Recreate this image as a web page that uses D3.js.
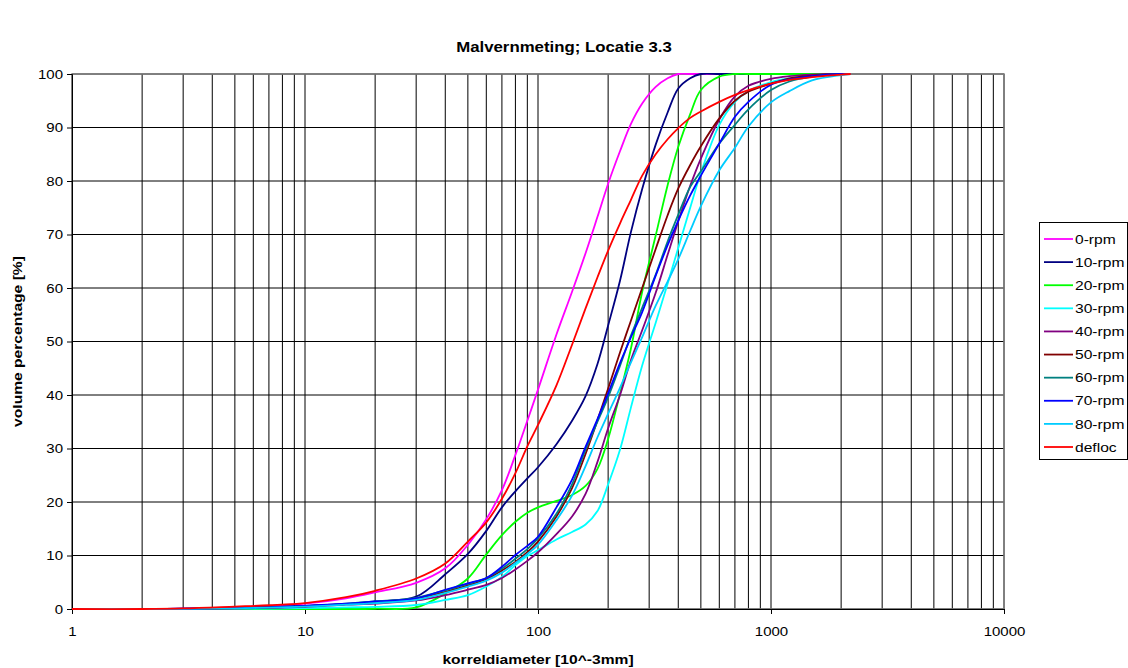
<!DOCTYPE html>
<html>
<head>
<meta charset="utf-8">
<script src="https://cdn.jsdelivr.net/npm/d3@7"></script>
<style>
  html, body { margin: 0; padding: 0; background: #fff; }
  svg { display: block; }
  text { font-family: "Liberation Sans", Arial, sans-serif; }
</style>
</head>
<body>
<svg id="chart" width="1128" height="668"></svg>
<script>
// ---- data ----
const sizes = [1, 2, 3, 5, 7, 10, 15, 20, 30, 40, 50, 60, 70, 80, 90, 100, 120, 140, 160, 180, 200, 225, 250, 280, 320, 360, 400, 450, 500, 600, 700, 800, 1000, 1200, 1500, 2000, 2200];

const rpm0   = [0,0,0.05,0.3,0.6,1.0,2.0,3.1,4.9,7.6,12.0,16.8,22.2,28.8,35.2,41.0,51.3,59.3,66.5,73.3,79.5,85.6,90.6,94.5,97.6,99.2,100,100,100,100,100,100,100,100,100,100,100];
const rpm10  = [0,0,0.05,0.2,0.4,0.6,0.9,1.4,2.3,6.5,10.3,14.6,19.0,22.0,24.4,26.5,30.8,35.2,39.8,45.8,53,61.4,70.3,78.5,86.8,92.8,97.3,99.2,100,100,100,100,100,100,100,100,100];
const rpm20  = [0,0,0,0,0,0,0,0.05,0.3,2.9,5.7,10.2,13.8,16.3,18,19,20.2,21.3,23,26.2,31.8,40.3,48.5,59.3,69.8,79.2,86.4,92.5,97.0,99.5,100,100,100,100,100,100,100];
const rpm30  = [0,0,0.01,0.03,0.08,0.15,0.3,0.4,0.75,1.7,2.6,4.2,6.0,8.2,9.9,11,13,14.4,15.8,18.3,23.3,29.8,37.5,45.5,53.5,60.8,67.5,75,81.5,90.5,94.8,96.8,98.5,99.2,99.7,100,100];
const rpm40  = [0,0,0.02,0.1,0.2,0.4,0.8,1.0,1.6,2.6,3.6,4.5,5.8,7.4,9.0,10.6,14.0,17.3,21.5,27.5,33.8,40.0,46.4,52.1,59.1,66.2,72.5,79.1,84.2,91.5,95.8,97.8,99.1,99.6,99.9,100,100];
const rpm50  = [0,0,0.02,0.1,0.25,0.5,0.9,1.3,2.0,3.2,4.4,5.6,7.2,8.8,10.6,12.6,17.3,22.6,29.0,35.3,41.2,48.0,53.8,60.0,67.3,73.6,78.6,83,86.5,91.7,95.0,96.7,98.2,99.2,99.7,100,100];
const rpm60  = [0,0,0.03,0.15,0.3,0.55,1.0,1.4,2.1,3.5,4.7,5.8,7.5,9.4,11.2,13.2,17.8,23.3,29.8,35,39.6,45.5,51,56.3,62.5,68.7,73.7,78.9,81.8,87,90.5,93.4,97,98.6,99.5,100,100];
const rpm70  = [0,0,0.05,0.2,0.35,0.6,1.0,1.4,2.0,3.6,4.8,5.8,7.9,10.1,11.8,13.5,19,24.2,30.3,35.5,40.3,46,50.7,55.5,62.3,68,72.6,77.3,81,87,92,94.8,98,99,99.6,100,100];
const rpm80  = [0,0,0.03,0.12,0.25,0.45,0.8,1.1,1.7,3.0,4.2,5.3,6.8,8.6,10.3,12,16.6,21.2,26.7,32.1,36.5,41.4,46,50.8,56.7,61.2,65.4,70.7,75.3,82,86.2,90.2,94.7,96.8,98.8,99.8,100];
const defloc = [0,0,0.1,0.45,0.7,1.1,2.2,3.4,5.7,8.5,12.6,16.2,20.6,25.4,30.4,34.4,41.8,49.4,56.2,62,67,72.1,76.4,81.0,85.0,87.8,89.9,91.8,93.0,94.8,96.1,97.0,98.2,98.9,99.4,99.9,100];

const seriesNames  = ["0-rpm","10-rpm","20-rpm","30-rpm","40-rpm","50-rpm","60-rpm","70-rpm","80-rpm","defloc"];
const seriesValues = [rpm0, rpm10, rpm20, rpm30, rpm40, rpm50, rpm60, rpm70, rpm80, defloc];
const seriesColors = ["#FF00FF","#000080","#00FF00","#00FFFF","#800080","#800000","#008080","#0000FF","#00CCFF","#FF0000"];

const xTicks = [1, 10, 100, 1000, 10000];
const yTicks = [0, 10, 20, 30, 40, 50, 60, 70, 80, 90, 100];

const titleText = "Malvernmeting; Locatie 3.3";
const xTitle = "korreldiameter [10^-3mm]";
const yTitle = "volume percentage [%]";

// ---- layout ----
const svg = d3.select("#chart");
const L = 72, R = 1004, T = 74, B = 609;
const WIDEN = 1.2;   // reference text is drawn somewhat wider than Liberation Sans

function widen(sel) {
  sel.each(function () {
    const w = this.getComputedTextLength();
    d3.select(this).attr("textLength", w * WIDEN).attr("lengthAdjust", "spacingAndGlyphs");
  });
}

const x = d3.scaleLog().domain([1, 10000]).range([L, R]);
const y = d3.scaleLinear().domain([0, 100]).range([B, T]);

// vertical grid (1..9 per decade)
const vGrid = [];
for (let d = 1; d <= 1000; d *= 10) for (let k = 1; k <= 9; k++) vGrid.push(d * k);
vGrid.push(10000);

const grid = svg.append("g");
grid.selectAll("line.v").data(vGrid).enter().append("line")
  .attr("x1", d => x(d)).attr("x2", d => x(d))
  .attr("y1", T).attr("y2", B)
  .attr("stroke", "#000").attr("stroke-width", 1);
grid.selectAll("line.h").data(yTicks).enter().append("line")
  .attr("x1", L).attr("x2", R)
  .attr("y1", d => y(d)).attr("y2", d => y(d))
  .attr("stroke", "#000").attr("stroke-width", 1);

// plot border
svg.append("rect").attr("x", L).attr("y", T).attr("width", R - L).attr("height", B - T)
  .attr("fill", "none").attr("stroke", "#808080").attr("stroke-width", 1.5);

// axes
const yAxis = d3.axisLeft(y).tickValues(yTicks).tickSize(5).tickPadding(4).tickFormat(d3.format("d"));
const gy = svg.append("g").attr("transform", `translate(${L},0)`).call(yAxis);
const xAxis = d3.axisBottom(x).tickValues(xTicks).tickSize(5).tickPadding(13).tickFormat(d3.format("d"));
const gx = svg.append("g").attr("transform", `translate(0,${B})`).call(xAxis);
[gx, gy].forEach(g => {
  g.select(".domain").attr("stroke", "#000");
  g.selectAll(".tick line").attr("stroke", "#000");
  g.selectAll("text").attr("font-size", 12.5).attr("fill", "#000")
    .attr("font-family", '"Liberation Sans", Arial, sans-serif');
  widen(g.selectAll("text"));
});

// lines
svg.append("clipPath").attr("id", "plotclip").append("rect")
  .attr("x", L - 2).attr("y", T - 1).attr("width", R - L + 4).attr("height", B - T + 2);

const line = d3.line()
  .x(d => x(d[0])).y(d => y(d[1]))
  .curve(d3.curveCatmullRom.alpha(0.5));

const gl = svg.append("g").attr("clip-path", "url(#plotclip)");
seriesValues.forEach((vals, i) => {
  const pts = sizes.map((s, j) => [s, vals[j]]);
  gl.append("path").datum(pts)
    .attr("d", line)
    .attr("fill", "none")
    .attr("stroke", seriesColors[i])
    .attr("stroke-width", 1.8);
});

// titles
svg.append("text").attr("x", 564).attr("y", 52).attr("text-anchor", "middle")
  .attr("font-size", 14).attr("font-weight", "bold").text(titleText).call(widen);
svg.append("text").attr("x", (L + R) / 2).attr("y", 664).attr("text-anchor", "middle")
  .attr("font-size", 13).attr("font-weight", "bold").text(xTitle).call(widen);
svg.append("text").attr("transform", `translate(22,${(T + B) / 2}) rotate(-90)`)
  .attr("text-anchor", "middle")
  .attr("font-size", 13).attr("font-weight", "bold").text(yTitle).call(widen);

// legend
const lg = svg.append("g");
lg.append("rect").attr("x", 1039.5).attr("y", 222.5).attr("width", 88).attr("height", 237)
  .attr("fill", "#fff").attr("stroke", "#000").attr("stroke-width", 1);
const ly = d3.scaleLinear().domain([0, 9]).range([239, 447]);
seriesNames.forEach((name, i) => {
  lg.append("line").attr("x1", 1044).attr("x2", 1073)
    .attr("y1", ly(i)).attr("y2", ly(i))
    .attr("stroke", seriesColors[i]).attr("stroke-width", 1.8);
  lg.append("text").attr("x", 1075).attr("y", ly(i)).attr("dy", "0.36em")
    .attr("font-size", 13).text(name).call(widen);
});
</script>
</body>
</html>
